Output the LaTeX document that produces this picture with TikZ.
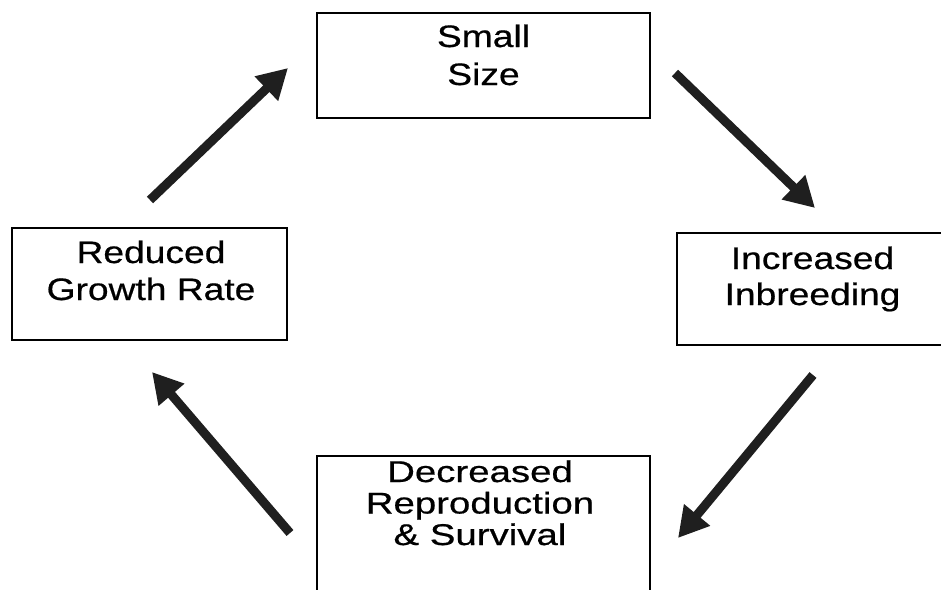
\documentclass[tikz,border=0pt]{standalone}
\usepackage{fontspec}
\setmainfont{Liberation Sans}[FakeStretch=1.2,FakeBold=0.6]
\usetikzlibrary{arrows.meta}
\tikzset{
  box/.style={draw=black, line width=1.6pt, inner sep=0pt, outer sep=0pt},
  lbl/.style={align=center, inner sep=0pt, anchor=base, text=black},
  bigarrow/.style={draw=black!88, line width=9pt,
    -{Triangle[width=32pt,length=30pt]}},
}
\begin{document}
\begin{tikzpicture}[x=1pt,y=-1pt]
\useasboundingbox (0,0) rectangle (941,589);
\clip (0,0) rectangle (941,589);
% boxes
\node[box, minimum width=333pt, minimum height=105pt] (small) at (483.5,65.5) {};
\node[box, minimum width=271pt, minimum height=112pt] (inb) at (812.5,289) {};
\node[box, minimum width=275pt, minimum height=112pt] (red) at (149.5,284) {};
\node[box, minimum width=333pt, minimum height=150pt] (dec) at (483.5,531) {};
% labels (anchor=base is the baseline of the last line)
\node[lbl, font={\fontsize{31pt}{38pt}\selectfont}] (smallt) at (483.5,85) {Small\\Size};
\node[lbl, font={\fontsize{31pt}{36pt}\selectfont}] (inbt) at (812.5,305) {Increased\\Inbreeding};
\node[lbl, font={\fontsize{31pt}{37pt}\selectfont}] (redt) at (151,300) {Reduced\\Growth Rate};
\node[lbl, font={\addfontfeatures{FakeStretch=1.28}\fontsize{30pt}{31.5pt}\selectfont}] (dect) at (480,545) {Decreased\\Reproduction\\\& Survival};
% arrow end points
\coordinate (a1s) at (675,73);  \coordinate (a1e) at (815,208);
\coordinate (a2s) at (813,375); \coordinate (a2e) at (678,538);
\coordinate (a3s) at (290,533); \coordinate (a3e) at (152,372);
\coordinate (a4s) at (150,200); \coordinate (a4e) at (288,68);
\draw[bigarrow] (a1s) -- (a1e);
\draw[bigarrow] (a2s) -- (a2e);
\draw[bigarrow] (a3s) -- (a3e);
\draw[bigarrow] (a4s) -- (a4e);
\end{tikzpicture}
\end{document}
